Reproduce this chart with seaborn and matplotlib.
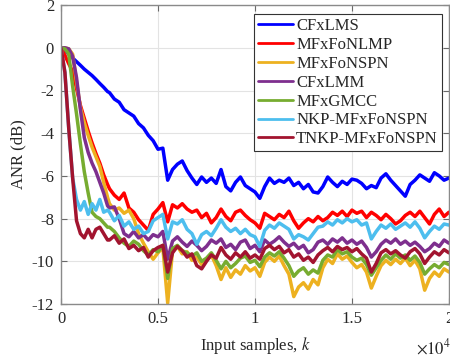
import numpy as np
import pandas as pd
import matplotlib
matplotlib.use("Agg")
import matplotlib.pyplot as plt
import seaborn as sns
from matplotlib.lines import Line2D

# sample positions: 0..2400 every 200, then 2500..20000 every 250
K = list(range(0, 2401, 200)) + list(range(2500, 20001, 250))

cfxlms = [0, -0.1, -0.3, -0.48, -0.65, -0.82, -1.0, -1.15, -1.3, -1.48, -1.67, -1.85, -2.05,
          -2.1, -2.4, -2.55, -2.9, -3.05, -3.2, -3.55, -3.75,
          -4.1, -4.35, -4.75, -4.7, -6.2, -5.7, -5.45, -5.3,
          -5.75, -6.1, -6.4, -6.05, -6.3, -6.1, -6.35, -5.7,
          -6.5, -6.7, -6.3, -6.05, -6.45, -6.6, -6.75, -7.05,
          -6.5, -6.1, -6.35, -6.2, -6.3, -6.1, -6.45, -6.3,
          -6.6, -6.4, -6.75, -6.8, -6.5, -6.05, -6.3, -6.5,
          -6.25, -6.4, -6.15, -6.2, -6.35, -6.6, -6.45, -6.55,
          -6.1, -5.9, -6.2, -6.45, -6.7, -6.95, -6.4, -6.2,
          -5.95, -6.1, -6.25, -5.85, -6.0, -6.2, -6.1]
mfxfonlmp = [0, -0.35, -0.75, -1.1, -1.9, -2.7, -3.3, -3.9, -4.45, -4.95, -5.4, -5.95, -6.4,
             -6.6, -6.9, -7.1, -6.8, -7.5, -7.7, -8.05, -8.3,
             -8.55, -7.8, -7.55, -7.25, -8.15, -7.35, -7.5, -7.3,
             -7.55, -7.7, -7.6, -7.95, -7.75, -8.2, -7.95, -7.55,
             -7.9, -8.1, -7.7, -7.6, -7.85, -8.05, -8.2, -8.45,
             -7.75, -7.9, -8.05, -7.8, -7.95, -7.65, -8.1, -8.45,
             -8.2, -8.0, -8.15, -7.9, -8.1, -7.95, -7.7, -7.85,
             -7.65, -7.9, -7.6, -7.75, -7.65, -7.95, -7.7, -7.85,
             -8.05, -7.8, -8.0, -8.25, -8.1, -7.85, -7.7, -7.9,
             -7.65, -7.95, -8.25, -7.8, -7.55, -7.9, -7.7]
mfxfonspn = [0, 0, -0.05, -0.3, -1.6, -2.8, -3.5, -4.1, -4.65, -5.1, -5.55, -6.3, -7.0,
             -7.3, -7.6, -7.5, -7.75, -7.6, -8.0, -8.7, -9.15,
             -9.55, -9.9, -9.6, -9.35, -11.95, -9.5, -9.3, -9.65,
             -9.55, -9.95, -9.8, -10.15, -9.95, -9.7, -10.2, -10.85,
             -10.3, -10.75, -10.4, -10.6, -10.2, -10.45, -10.3, -10.7,
             -10.05, -9.8, -10.0, -9.75, -10.2, -10.6, -11.65, -11.2,
             -11.0, -11.3, -10.85, -11.1, -10.3, -9.9, -10.1, -9.65,
             -9.9, -9.75, -10.05, -10.3, -10.15, -10.5, -11.25, -10.7,
             -10.2, -9.95, -10.15, -9.9, -10.1, -9.85, -10.2, -9.95,
             -10.35, -11.35, -10.8, -10.5, -10.7, -10.35, -10.5]
cfxlmm = [0, 0, -0.05, -0.4, -1.4, -2.9, -4.2, -4.9, -5.4, -5.8, -6.3, -6.8, -7.4,
          -7.5, -7.45, -8.0, -8.7, -8.85, -8.6, -8.9, -8.75,
          -9.0, -8.75, -8.85, -8.6, -9.9, -9.05, -8.85, -9.1,
          -9.3, -9.05, -9.25, -9.5, -9.3, -9.0, -9.15, -8.95,
          -9.35, -9.2, -9.45, -9.1, -9.0, -9.4, -9.25, -9.55,
          -9.0, -9.2, -9.05, -8.85, -9.1, -9.3, -9.15, -9.4,
          -9.25, -9.6, -9.45, -9.1, -9.0, -9.2, -8.95, -9.1,
          -8.9, -9.15, -9.0, -9.2, -9.05, -9.35, -9.8, -9.55,
          -9.2, -9.0, -9.15, -8.95, -9.2, -9.05, -9.25, -9.1,
          -9.3, -9.55, -9.4, -9.15, -9.3, -9.0, -9.15]
mfxgmcc = [0, -0.05, -0.3, -1.8, -3.1, -4.5, -5.8, -6.8, -7.7, -7.9, -8.0, -8.2, -8.4,
           -8.4, -8.6, -8.9, -9.15, -9.3, -9.05, -9.2, -9.5,
           -9.7, -9.45, -9.55, -9.25, -10.8, -9.4, -9.25, -9.5,
           -9.6, -9.75, -9.6, -10.0, -9.85, -9.6, -9.95, -10.35,
           -10.0, -10.3, -10.1, -9.85, -9.75, -10.05, -9.95, -10.25,
           -9.8, -9.6, -9.75, -9.55, -9.85, -10.2, -10.7, -10.45,
           -10.3, -10.6, -10.4, -10.55, -9.95, -9.7, -9.8, -9.45,
           -9.65, -9.55, -9.8, -9.95, -9.85, -10.15, -10.65, -10.3,
           -9.95, -9.7, -9.9, -9.65, -9.85, -9.7, -9.95, -9.75,
           -10.05, -10.6, -10.35, -10.15, -10.3, -10.05, -10.15]
nkp = [0, -1.15, -3.8, -6.1, -7.1, -7.6, -7.2, -7.8, -7.3, -7.6, -7.1, -7.7, -7.6,
       -7.7, -8.1, -7.85, -8.35, -8.15, -8.5, -8.35, -8.7,
       -8.6, -8.1, -7.95, -7.8, -8.95, -8.15, -8.25, -8.05,
       -8.5, -8.7, -9.2, -8.75, -8.6, -8.8, -8.45, -8.05,
       -8.4, -8.6, -8.45, -8.7, -8.5, -8.75, -8.85, -9.3,
       -8.55, -8.3, -8.45, -8.2, -8.35, -8.5, -8.95, -8.75,
       -8.85, -9.0, -8.7, -8.4, -8.35, -8.15, -8.3, -8.05,
       -8.2, -8.0, -8.15, -8.05, -8.3, -8.2, -8.95, -8.6,
       -8.3, -8.45, -8.25, -8.5, -8.35, -8.2, -8.4, -8.15,
       -8.45, -8.9, -8.6, -8.35, -8.5, -8.25, -8.3]
tnkp = [0, -1.15, -3.8, -6.1, -8.1, -8.7, -8.9, -8.5, -8.9, -8.5, -8.4, -8.7, -9.0,
        -9.0, -8.8, -9.15, -8.95, -9.4, -9.25, -9.5, -9.35,
        -9.8, -9.5, -9.35, -9.25, -10.5, -9.6, -9.3, -9.5,
        -9.8, -9.65, -10.2, -10.35, -10.0, -9.7, -9.85, -9.35,
        -9.7, -9.9, -9.6, -9.8, -9.55, -9.85, -9.7, -9.9,
        -9.4, -9.25, -9.45, -9.3, -9.6, -9.45, -9.8, -9.65,
        -9.95, -9.8, -10.05, -9.7, -9.5, -9.35, -9.55, -9.3,
        -9.45, -9.35, -9.55, -9.4, -9.65, -9.85, -10.5, -10.1,
        -9.6, -9.45, -9.65, -9.5, -9.7, -9.85, -9.55, -9.4,
        -9.65, -10.1, -9.8, -9.55, -9.7, -9.45, -9.6]

labels = ["CFxLMS", "MFxFoNLMP", "MFxFoNSPN", "CFxLMM", "MFxGMCC",
          "NKP-MFxFoNSPN", "TNKP-MFxFoNSPN"]
series = [cfxlms, mfxfonlmp, mfxfonspn, cfxlmm, mfxgmcc, nkp, tnkp]
colors = ["#0000FF", "#FF0000", "#EDB120", "#7E2F8E", "#77AC30", "#4DBEEE", "#A2142F"]
xtick_vals = [0, 5000, 10000, 15000, 20000]
xtick_labels = ["0", "0.5", "1", "1.5", "2"]
ytick_vals = [-12, -10, -8, -6, -4, -2, 0, 2]

frames = []
for lab, vals in zip(labels, series):
    assert len(vals) == len(K), (lab, len(vals), len(K))
    frames.append(pd.DataFrame({"k": K, "anr": vals, "method": lab}))
df = pd.concat(frames, ignore_index=True)

sns.set_theme(style="white")
plt.rcParams["font.family"] = ["Liberation Serif", "DejaVu Serif"]
plt.rcParams["mathtext.fontset"] = "stix"
plt.rcParams["axes.unicode_minus"] = False

FS = 12
fig = plt.figure(figsize=(4.5, 3.62), dpi=100)
ax = fig.add_axes([0.1356, 0.160, 0.862, 0.826])

sns.lineplot(data=df, x="k", y="anr", hue="method", hue_order=labels,
             palette=dict(zip(labels, colors)), estimator=None, sort=False,
             linewidth=2.5, ax=ax, legend=False)

ax.set_xlim(0, 20000)
ax.set_ylim(-12, 2)
ax.set_xticks(xtick_vals)
ax.set_xticklabels(xtick_labels)
ax.set_yticks(ytick_vals)
ax.set_yticklabels([str(v) for v in ytick_vals])
ax.grid(True, color="#e3e3e3", linewidth=0.8)
ax.set_axisbelow(True)
for s in ax.spines.values():
    s.set_color("#8a8a8a")
    s.set_linewidth(1.0)
ax.tick_params(direction="in", length=4, width=0.8, color="#6a6a6a",
               labelsize=FS, labelcolor="#262626", top=True, right=True,
               bottom=True, left=True, pad=5)
ax.set_xlabel(r"Input samples, $k$", fontsize=FS, color="#262626", labelpad=6)
ax.set_ylabel("ANR (dB)", fontsize=FS, color="#262626", labelpad=4)
fig.text(0.924, 0.012, r"$\times10^{4}$", fontsize=FS, color="#262626",
         ha="left", va="bottom")

handles = [Line2D([0], [0], color=c, lw=2.0) for c in colors]
leg = ax.legend(handles, labels, loc="upper right", bbox_to_anchor=(0.982, 0.970),
                fontsize=FS, frameon=True, fancybox=False, framealpha=1,
                edgecolor="#333333", borderpad=0.25, labelspacing=0.17,
                handlelength=2.1, handletextpad=0.2, borderaxespad=0.0)
leg.get_frame().set_linewidth(0.8)

fig.savefig("out.png", dpi=100)
